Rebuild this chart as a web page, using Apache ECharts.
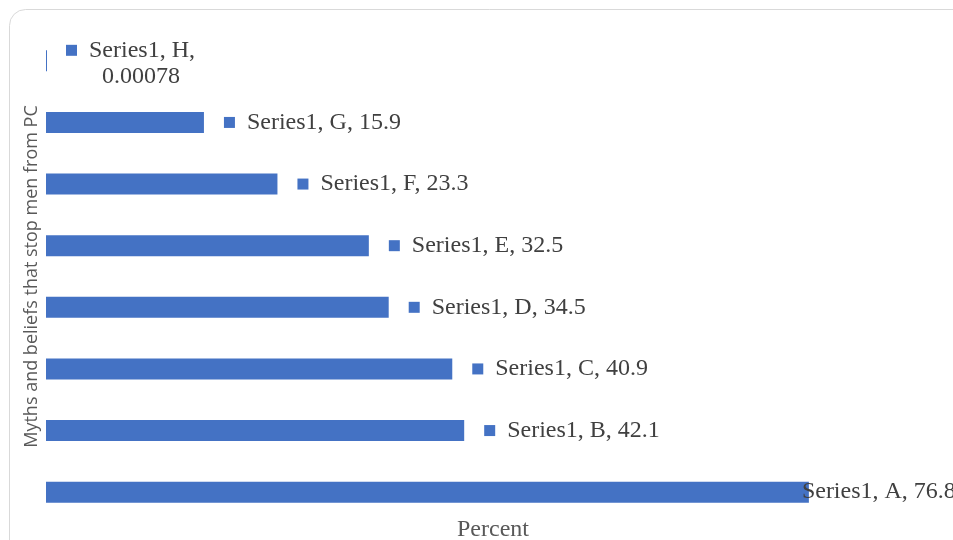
<!DOCTYPE html>
<html>
<head>
<meta charset="utf-8">
<script src="https://cdn.jsdelivr.net/npm/echarts@6/dist/echarts.min.js"></script>
<style>html,body{margin:0;padding:0;background:#fff}#c{width:953px;height:540px}</style>
</head>
<body>
<div id="c"></div>
<script>
var seriesName = 'Series1';
var categories = ['A', 'B', 'C', 'D', 'E', 'F', 'G', 'H'];
var values = [76.8, 42.1, 40.9, 34.5, 32.5, 23.3, 15.9, 0.00078];
var xAxisTitle = 'Percent';
var yAxisTitle = 'Myths and beliefs that stop men from PC';

var BLUE = '#4472C4';
var rich = {
  m: { width: 11, height: 11, backgroundColor: BLUE },
  t: { fontFamily: 'Liberation Serif', fontSize: 24, color: '#404040', lineHeight: 28, padding: [0, 0, 0, 6] },
  t0: { fontFamily: 'Liberation Serif', fontSize: 24, color: '#404040', lineHeight: 28 },
  h1: { fontFamily: 'Liberation Serif', fontSize: 24, color: '#404040', lineHeight: 26, padding: [0, 0, 0, 6] },
  h2: { fontFamily: 'Liberation Serif', fontSize: 24, color: '#404040', lineHeight: 26, padding: [0, 0, 0, 36] }
};

var data = values.map(function (v, i) {
  var name = categories[i];
  var item = { value: v, name: name };
  if (name === 'A') {
    item.label = {
      distance: 0, offset: [-7, 0],
      formatter: function (p) { return '{t0|' + seriesName + ', ' + p.name + ', ' + p.value + '}'; }
    };
  } else if (name === 'H') {
    item.label = {
      position: [20, 13], align: 'left', verticalAlign: 'middle',
      formatter: function (p) { return '{m|}{h1| ' + seriesName + ', ' + p.name + ',}\n{h2|' + p.value + '}'; }
    };
  }
  return item;
});

var chart = echarts.init(document.getElementById('c'));
chart.setOption({
  animation: false,
  backgroundColor: '#fff',
  graphic: [{
    type: 'rect', silent: true, z: -10,
    shape: { x: 9.5, y: 9.5, width: 1100, height: 700, r: 16 },
    style: { fill: '#fff', stroke: '#d9d9d9', lineWidth: 1 }
  }],
  grid: { left: 46, right: 13, top: 30, bottom: 17, containLabel: false, outerBoundsMode: 'none' },
  xAxis: {
    type: 'value', min: 0, max: 90,
    axisLabel: { show: false }, axisLine: { show: false }, axisTick: { show: false },
    splitLine: { show: false },
    name: xAxisTitle, nameLocation: 'middle', nameGap: -5,
    nameTextStyle: { fontFamily: 'Liberation Serif', fontSize: 24, color: '#595959' }
  },
  yAxis: {
    type: 'category', data: categories,
    axisLabel: { show: false }, axisLine: { show: false }, axisTick: { show: false },
    name: yAxisTitle, nameLocation: 'middle', nameGap: 5,
    nameTextStyle: { fontFamily: 'Open Sans', fontSize: 18, color: '#595959' }
  },
  series: [{
    type: 'bar', name: seriesName, data: data,
    barWidth: 21, barMinHeight: 1,
    itemStyle: { color: BLUE },
    label: {
      show: true, position: 'right', distance: 20, rich: rich,
      formatter: function (p) { return '{m|}{t| ' + seriesName + ', ' + p.name + ', ' + p.value + '}'; }
    }
  }]
});
</script>
</body>
</html>
